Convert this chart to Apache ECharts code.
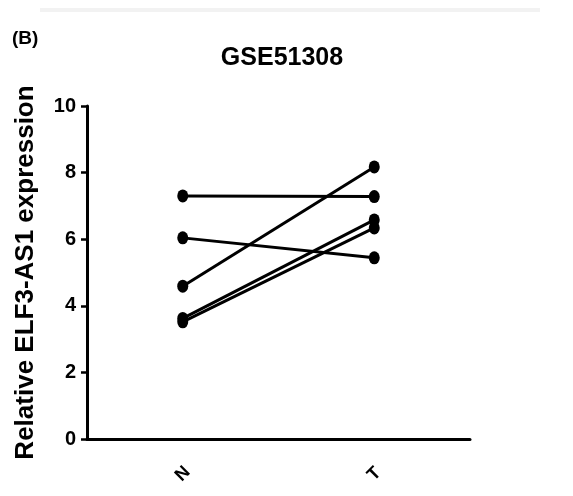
<!DOCTYPE html>
<html>
<head>
<meta charset="utf-8">
<script src="https://cdn.jsdelivr.net/npm/echarts@6/dist/echarts.min.js"></script>
<style>
  html, body { margin: 0; padding: 0; background: #fff; }
  #chart { width: 573px; height: 496px; }
</style>
</head>
<body>
<div id="chart"></div>
<script>
// groups on the x axis
var categories = ['N', 'T'];
// paired samples: normal value -> tumour value (same index = same line)
var normalValues = [7.30, 6.04, 4.59, 3.62, 3.52];
var tumorValues = [7.28, 5.44, 8.17, 6.58, 6.34];
var yTicks = [0, 2, 4, 6, 8, 10];

var chart = echarts.init(document.getElementById('chart'));

var series = normalValues.map(function (n, i) {
  return {
    type: 'line',
    data: [n, tumorValues[i]],
    symbol: 'circle',
    symbolSize: [11, 13],
    lineStyle: { color: '#000', width: 3 },
    itemStyle: { color: '#000' },
    silent: true,
    animation: false
  };
});

chart.setOption({
  animation: false,
  title: {
    text: 'GSE51308',
    left: 277,
    top: 41,
    textAlign: 'center',
    textStyle: {
      fontFamily: '"Liberation Sans", Arial, sans-serif',
      fontWeight: 'bold',
      fontSize: 25,
      color: '#000'
    }
  },
  graphic: [
    {
      type: 'rect',
      shape: { x: 40, y: 8, width: 500, height: 4 },
      style: { fill: '#f2f2f2' }
    },
    {
      type: 'text',
      left: 12,
      top: 29,
      style: {
        text: '(B)',
        font: 'bold 19px "Liberation Sans", Arial, sans-serif',
        fill: '#000'
      }
    }
  ],
  grid: { left: 87, right: 103, top: 106, bottom: 57 },
  xAxis: {
    type: 'category',
    data: categories,
    boundaryGap: true,
    axisLine: { lineStyle: { color: '#000', width: 3 } },
    axisTick: { alignWithLabel: true, length: 9, lineStyle: { color: '#000', width: 2.5 } },
    axisLabel: {
      rotate: 45,
      margin: 35,
      align: 'center',
      verticalAlign: 'middle',
      color: '#000',
      fontWeight: 'bold',
      fontSize: 18,
      fontFamily: '"Liberation Sans", Arial, sans-serif'
    }
  },
  yAxis: {
    type: 'value',
    min: yTicks[0],
    max: yTicks[yTicks.length - 1],
    interval: 2,
    name: 'Relative ELF3-AS1 expression',
    nameLocation: 'middle',
    nameRotate: 90,
    nameGap: 48,
    nameTextStyle: {
      color: '#000',
      fontWeight: 'bold',
      fontSize: 26,
      fontFamily: '"Liberation Sans", Arial, sans-serif'
    },
    splitLine: { show: false },
    axisLine: { show: true, lineStyle: { color: '#000', width: 3 } },
    axisTick: { show: true, length: 6, lineStyle: { color: '#000', width: 2.5 } },
    axisLabel: {
      margin: 11,
      color: '#000',
      fontWeight: 'bold',
      fontSize: 20,
      fontFamily: '"Liberation Sans", Arial, sans-serif'
    }
  },
  series: series
});
</script>
</body>
</html>
